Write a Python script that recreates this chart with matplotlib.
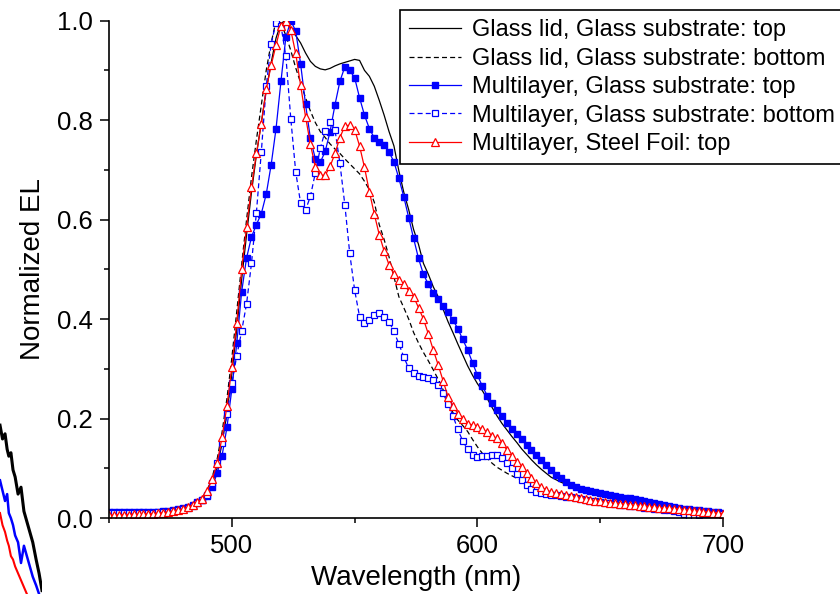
import numpy as np
import matplotlib
matplotlib.use("Agg")
import matplotlib.pyplot as plt
from matplotlib.ticker import MultipleLocator

plt.rcParams['font.family'] = ['Liberation Sans', 'DejaVu Sans']

# wavelength grid, 2 nm steps
wl = np.arange(450, 701, 2)

glass_top = [
    0.010, 0.010, 0.010, 0.010, 0.010, 0.010, 0.010, 0.011, 0.011, 0.011,
    0.012, 0.012, 0.013, 0.014, 0.016, 0.019, 0.022, 0.026, 0.031, 0.037,
    0.050, 0.070, 0.100, 0.150, 0.210, 0.290, 0.380, 0.480, 0.570, 0.655,
    0.730, 0.795, 0.860, 0.915, 0.965, 0.995, 1.000, 0.985, 0.970, 0.955,
    0.935, 0.918, 0.908, 0.903, 0.901, 0.904, 0.909, 0.913, 0.916, 0.919,
    0.922, 0.920, 0.900, 0.888, 0.868, 0.840, 0.810, 0.777, 0.748, 0.698,
    0.655, 0.620, 0.580, 0.550, 0.512, 0.490, 0.465, 0.445, 0.420, 0.395,
    0.373, 0.350, 0.328, 0.306, 0.287, 0.270, 0.256, 0.240, 0.222, 0.205,
    0.190, 0.177, 0.164, 0.152, 0.139, 0.128, 0.117, 0.107, 0.098, 0.090,
    0.082, 0.077, 0.072, 0.068, 0.065, 0.061, 0.058, 0.055, 0.052, 0.050,
    0.047, 0.045, 0.043, 0.041, 0.039, 0.037, 0.035, 0.033, 0.031, 0.030,
    0.028, 0.027, 0.025, 0.024, 0.023, 0.021, 0.020, 0.019, 0.018, 0.017,
    0.016, 0.015, 0.014, 0.013, 0.012, 0.011]

glass_bottom = [
    0.009, 0.009, 0.009, 0.009, 0.009, 0.009, 0.010, 0.010, 0.010, 0.010,
    0.011, 0.012, 0.013, 0.014, 0.016, 0.020, 0.024, 0.028, 0.034, 0.041,
    0.057, 0.082, 0.118, 0.172, 0.240, 0.322, 0.415, 0.510, 0.600, 0.685,
    0.760, 0.830, 0.900, 0.955, 1.000, 0.995, 0.970, 0.940, 0.905, 0.875,
    0.845, 0.818, 0.795, 0.777, 0.765, 0.752, 0.742, 0.733, 0.722, 0.712,
    0.702, 0.692, 0.677, 0.660, 0.635, 0.590, 0.560, 0.525, 0.485, 0.445,
    0.423, 0.400, 0.373, 0.352, 0.333, 0.316, 0.298, 0.279, 0.258, 0.233,
    0.212, 0.197, 0.186, 0.174, 0.158, 0.143, 0.130, 0.120, 0.110, 0.102,
    0.096, 0.090, 0.085, 0.080, 0.076, 0.072, 0.068, 0.064, 0.060, 0.056,
    0.052, 0.048, 0.044, 0.041, 0.039, 0.037, 0.036, 0.035, 0.034, 0.033,
    0.032, 0.031, 0.030, 0.029, 0.028, 0.027, 0.026, 0.025, 0.024, 0.023,
    0.022, 0.021, 0.020, 0.019, 0.018, 0.017, 0.016, 0.015, 0.014, 0.013,
    0.012, 0.011, 0.010, 0.010, 0.009, 0.009]

multi_top = [
    0.012, 0.012, 0.012, 0.012, 0.012, 0.012, 0.012, 0.012, 0.012, 0.013,
    0.013, 0.014, 0.015, 0.016, 0.018, 0.020, 0.023, 0.027, 0.032, 0.037,
    0.045, 0.062, 0.090, 0.125, 0.182, 0.259, 0.351, 0.455, 0.523, 0.565,
    0.590, 0.612, 0.651, 0.710, 0.783, 0.878, 0.967, 1.000, 0.979, 0.913,
    0.832, 0.763, 0.722, 0.715, 0.737, 0.777, 0.831, 0.878, 0.907, 0.900,
    0.885, 0.845, 0.810, 0.783, 0.764, 0.756, 0.750, 0.736, 0.716, 0.683,
    0.646, 0.604, 0.562, 0.522, 0.490, 0.470, 0.452, 0.440, 0.426, 0.415,
    0.398, 0.381, 0.359, 0.338, 0.312, 0.287, 0.265, 0.246, 0.232, 0.217,
    0.205, 0.192, 0.179, 0.169, 0.158, 0.147, 0.137, 0.126, 0.116, 0.106,
    0.096, 0.087, 0.080, 0.073, 0.066, 0.062, 0.059, 0.056, 0.055, 0.053,
    0.051, 0.049, 0.047, 0.045, 0.043, 0.041, 0.040, 0.038, 0.036, 0.034,
    0.032, 0.030, 0.028, 0.026, 0.024, 0.022, 0.020, 0.019, 0.018, 0.017,
    0.016, 0.015, 0.014, 0.013, 0.012, 0.011]

multi_bottom = [
    0.010, 0.010, 0.010, 0.010, 0.010, 0.010, 0.010, 0.010, 0.011, 0.011,
    0.012, 0.012, 0.013, 0.014, 0.016, 0.018, 0.021, 0.025, 0.030, 0.036,
    0.047, 0.070, 0.110, 0.151, 0.210, 0.271, 0.326, 0.376, 0.431, 0.512,
    0.614, 0.736, 0.868, 0.953, 0.996, 0.990, 0.928, 0.803, 0.696, 0.633,
    0.619, 0.647, 0.694, 0.743, 0.778, 0.797, 0.780, 0.713, 0.630, 0.532,
    0.458, 0.405, 0.392, 0.398, 0.408, 0.412, 0.405, 0.395, 0.375, 0.350,
    0.324, 0.301, 0.291, 0.285, 0.284, 0.282, 0.277, 0.267, 0.251, 0.229,
    0.206, 0.178, 0.155, 0.138, 0.127, 0.123, 0.124, 0.125, 0.126, 0.126,
    0.120, 0.110, 0.100, 0.088, 0.076, 0.066, 0.058, 0.053, 0.050, 0.048,
    0.047, 0.046, 0.045, 0.043, 0.042, 0.041, 0.039, 0.037, 0.035, 0.034,
    0.032, 0.031, 0.030, 0.029, 0.027, 0.026, 0.025, 0.024, 0.022, 0.021,
    0.020, 0.019, 0.018, 0.017, 0.016, 0.014, 0.012, 0.008, 0.004, 0.004,
    0.006, 0.008, 0.009, 0.009, 0.009, 0.008]

steel_top = [
    0.006, 0.006, 0.007, 0.007, 0.007, 0.008, 0.008, 0.008, 0.009, 0.009,
    0.010, 0.011, 0.012, 0.014, 0.016, 0.018, 0.022, 0.026, 0.032, 0.038,
    0.055, 0.078, 0.110, 0.162, 0.225, 0.304, 0.393, 0.500, 0.585, 0.665,
    0.733, 0.793, 0.862, 0.910, 0.951, 0.990, 1.000, 0.981, 0.934, 0.870,
    0.807, 0.751, 0.706, 0.689, 0.689, 0.707, 0.733, 0.765, 0.788, 0.790,
    0.781, 0.748, 0.705, 0.656, 0.611, 0.570, 0.537, 0.509, 0.490, 0.478,
    0.470, 0.457, 0.445, 0.423, 0.400, 0.370, 0.338, 0.308, 0.276, 0.244,
    0.225, 0.210, 0.200, 0.190, 0.187, 0.184, 0.178, 0.173, 0.165, 0.160,
    0.150, 0.137, 0.125, 0.113, 0.103, 0.091, 0.080, 0.070, 0.062, 0.056,
    0.052, 0.050, 0.048, 0.046, 0.045, 0.043, 0.041, 0.039, 0.037, 0.035,
    0.034, 0.032, 0.031, 0.030, 0.029, 0.028, 0.027, 0.026, 0.025, 0.024,
    0.023, 0.022, 0.021, 0.020, 0.020, 0.019, 0.018, 0.017, 0.016, 0.015,
    0.014, 0.013, 0.012, 0.011, 0.010, 0.009]

labels = ["Glass lid, Glass substrate: top",
          "Glass lid, Glass substrate: bottom",
          "Multilayer, Glass substrate: top",
          "Multilayer, Glass substrate: bottom",
          "Multilayer, Steel Foil: top"]

# stray fragment of another plot peeking in at the lower left corner
frag_x = [0.00, 0.06, 0.12, 0.17, 0.21, 0.26, 0.31, 0.36, 0.43, 0.50,
          0.57, 0.64, 0.71, 0.78, 0.86, 0.93, 1.00]
frag_black = [0.98, 0.90, 0.93, 0.84, 0.80, 0.82, 0.72, 0.68, 0.58, 0.62,
               0.48, 0.42, 0.36, 0.30, 0.20, 0.12, 0.02]
frag_blue = [0.66, 0.60, 0.54, 0.58, 0.47, 0.44, 0.40, 0.34, 0.30, 0.18,
             0.28, 0.22, 0.16, 0.10, 0.05, 0.00, -0.05]
frag_red = [0.47, 0.40, 0.36, 0.31, 0.28, 0.22, 0.20, 0.16, 0.12, 0.08,
            0.04, 0.00, -0.04, -0.08, -0.12, -0.16, -0.20]

fig = plt.figure(figsize=(8.4, 5.94), dpi=100)

fax = fig.add_axes([0.0, 0.0, 0.05, 0.29])
fax.plot(frag_x, frag_black, color='black', lw=2.2)
fax.plot(frag_x, frag_blue, color='#0000ff', lw=1.8)
fax.plot(frag_x, frag_red, color='#ff0000', lw=1.5)
fax.set_xlim(0, 1)
fax.set_ylim(0, 1)
fax.axis('off')

ax = fig.add_axes([0.1298, 0.1279, 0.7310, 0.8374])

ax.plot(wl, glass_top, color='black', lw=0.9, label=labels[0])
ax.plot(wl, glass_bottom, color='black', lw=0.9, ls=(0, (4, 2.5)), label=labels[1])
ax.plot(wl, multi_top, color='#0000ff', lw=0.9, marker='s', ms=4.3,
        mfc='#0000ff', mec='#0000ff', label=labels[2])
ax.plot(wl, multi_bottom, color='#0000ff', lw=0.9, ls=(0, (4, 2.5)), marker='s', ms=4.6,
        mfc='white', mec='#0000ff', mew=0.9, label=labels[3])
ax.plot(wl, steel_top, color='#ff0000', lw=0.9, marker='^', ms=5.3,
        mfc='white', mec='#ff0000', mew=0.9, label=labels[4])

ax.set_xlim(450, 700)
ax.set_ylim(0, 1.0)
ax.xaxis.set_major_locator(MultipleLocator(100))
ax.xaxis.set_minor_locator(MultipleLocator(50))
ax.yaxis.set_major_locator(MultipleLocator(0.2))
ax.yaxis.set_minor_locator(MultipleLocator(0.1))
ax.yaxis.set_major_formatter(plt.FormatStrFormatter('%.1f'))

for s in ['top', 'right']:
    ax.spines[s].set_visible(False)
for s in ['left', 'bottom']:
    ax.spines[s].set_linewidth(1.2)

ax.tick_params(which='major', direction='out', length=6.5, width=1.1,
               labelsize=18.5, pad=5)
ax.tick_params(which='minor', direction='out', length=3.5, width=1.1)

ax.set_xlabel("Wavelength (nm)", fontsize=20, labelpad=5)
ax.set_ylabel("Normalized EL", fontsize=20, labelpad=8)

leg = ax.legend(loc='upper left', bbox_to_anchor=(400 / 840, 1 - 10 / 594),
                bbox_transform=fig.transFigure, fontsize=17, frameon=True,
                fancybox=False, edgecolor='black', framealpha=1,
                borderaxespad=0, borderpad=0.4, labelspacing=0.27,
                handlelength=2.2, handletextpad=0.45, numpoints=1)
leg.get_frame().set_linewidth(1.2)

fig.savefig('out.png', dpi=100)
